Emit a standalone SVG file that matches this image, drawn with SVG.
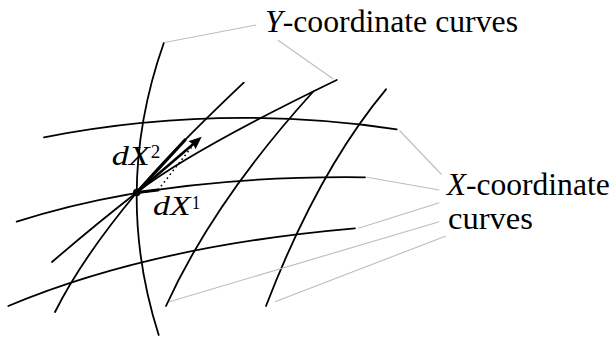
<svg xmlns="http://www.w3.org/2000/svg" width="614" height="337" viewBox="0 0 614 337">
<style>
.c{fill:none;stroke:#000;stroke-width:1.8;stroke-linecap:round}
.l{fill:none;stroke:#bdbdbd;stroke-width:1.1}
.t{font-family:"Liberation Serif",serif;fill:#000}
.i{font-style:italic}
</style>
<rect width="614" height="337" fill="#fff"/>
<g id="y-curves">
<path id="y1" class="c" d="M163.8,43 Q112.2,189 158.7,335"/>
<path id="y2" class="c" d="M55,312 Q81.9,258.2 136.7,192.5 Q169,153.5 243.7,82.7"/>
<path id="y3" class="c" d="M52,262 Q95,225 136.7,192.5 Q190,151 336.7,80"/>
<path id="y4" class="c" d="M166,306 Q213.5,201.5 313.3,91.5"/>
<path id="y5" class="c" d="M266,306 Q317.9,171 386,89.3"/>
</g>
<g id="x-curves">
<path id="x1" class="c" d="M44,137.3 Q220,103 396.7,129.3"/>
<path id="x2" class="c" d="M16.7,221.7 Q160,175 365,177.3"/>
<path id="x3" class="c" d="M8.3,306 Q151,246 355,228.3"/>
</g>
<g id="connectors">
<line class="l" x1="164.5" y1="42.5" x2="256" y2="25"/>
<line class="l" x1="277.7" y1="40" x2="333.3" y2="79"/>
<line class="l" x1="399.5" y1="130.5" x2="441.5" y2="174.5"/>
<line class="l" x1="367" y1="177.3" x2="439.3" y2="190"/>
<line class="l" x1="358.5" y1="228.3" x2="439.3" y2="202.7"/>
<line class="l" x1="169.3" y1="301.7" x2="439.3" y2="221.7"/>
<line class="l" x1="275" y1="301.7" x2="446" y2="236"/>
</g>
<g id="vectors">
<line id="dX1" x1="136.7" y1="192.5" x2="158" y2="190" stroke="#000" stroke-width="3.2" stroke-linecap="round"/>
<line id="dX2" x1="136.7" y1="192.5" x2="185" y2="140" stroke="#000" stroke-width="3.2" stroke-linecap="round"/>
<line id="dotted" x1="158" y1="190" x2="192" y2="146.5" stroke="#000" stroke-width="1.6" stroke-dasharray="1.6 3.2"/>
<line id="dX" x1="136.7" y1="192.5" x2="193" y2="144.3" stroke="#000" stroke-width="2.6"/>
<path id="arrowhead" d="M201.7,136.7 L188.3,141.3 Q193.5,143.5 195.5,149.3 Z" fill="#000"/>
<circle id="point" cx="136.7" cy="192.5" r="3.8" fill="#000"/>
</g>
<g id="labels">
<text class="t i" x="111.7" y="165" font-size="27" textLength="38" lengthAdjust="spacingAndGlyphs">dX</text>
<text class="t" x="150.7" y="158.3" font-size="19" textLength="9.5" lengthAdjust="spacingAndGlyphs">2</text>
<text class="t i" x="153" y="215" font-size="27" textLength="37.5" lengthAdjust="spacingAndGlyphs">dX</text>
<text class="t" x="191.7" y="209.3" font-size="19" textLength="8.5" lengthAdjust="spacingAndGlyphs">1</text>
<text id="ylabel" class="t" x="265" y="32.3" font-size="31" textLength="253" lengthAdjust="spacingAndGlyphs"><tspan class="i">Y</tspan>-coordinate curves</text>
<text id="xlabel1" class="t" x="446.7" y="195" font-size="31" textLength="163" lengthAdjust="spacingAndGlyphs"><tspan class="i">X</tspan>-coordinate</text>
<text id="xlabel2" class="t" x="448" y="228.8" font-size="31" textLength="85" lengthAdjust="spacingAndGlyphs">curves</text>
</g>
</svg>
